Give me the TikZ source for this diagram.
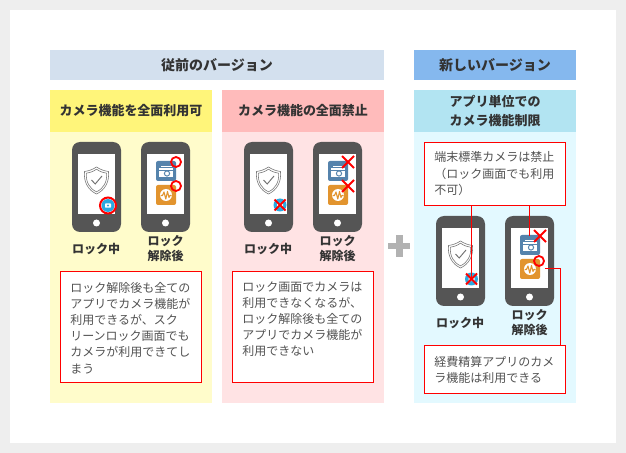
\documentclass[tikz,border=0pt]{standalone}
\usepackage{fontspec}
\setmainfont{Noto Sans CJK JP}
\definecolor{pagebg}{HTML}{EEEEEE}
\definecolor{headgrey}{HTML}{D3E0EE}
\definecolor{headblue}{HTML}{85B8EE}
\definecolor{headyellow}{HTML}{FFF57A}
\definecolor{bodyyellow}{HTML}{FFFCCB}
\definecolor{headpink}{HTML}{FFBBBB}
\definecolor{bodypink}{HTML}{FFE3E4}
\definecolor{headcyan}{HTML}{B2E4F2}
\definecolor{bodycyan}{HTML}{E3F9FF}
\definecolor{ink}{HTML}{333333}
\definecolor{phonegrey}{HTML}{555555}
\definecolor{iconblue}{HTML}{5583AC}
\definecolor{iconorange}{HTML}{E2942E}
\definecolor{camblue}{HTML}{2BA9E0}
\tikzset{
  x=0.75pt,y=-0.75pt,
  panel/.style={inner sep=0pt,outer sep=0pt,text=ink,font=\fontsize{10.5}{13}\selectfont\bfseries,align=center},
  subhead/.style={panel,font=\fontsize{9.75}{14.5}\selectfont\bfseries},
  note/.style={draw=red,line width=.75pt,fill=white,inner sep=0pt,outer sep=0pt,anchor=north west},
  notetext/.style={anchor=north west,inner sep=0pt,text=ink!85,align=left,font=\fontsize{9}{12.1}\selectfont},
  devlabel/.style={inner sep=0pt,text=ink,align=center,font=\fontsize{9}{11.25}\selectfont\bfseries},
  link/.style={red,line width=.75pt},
  okmark/.style={draw=red,line width=1.35pt,circle,inner sep=0pt,minimum size=10*.75pt},
}
\newcommand{\crossmark}[4][6]{%
  \coordinate (#2) at (#3,#4);
  \draw[red,line width=1.35pt] (#3-#1,#4-#1) -- (#3+#1,#4+#1) (#3-#1,#4+#1) -- (#3+#1,#4-#1);}
\newcommand{\phonebody}[3]{%
  \begin{scope}[shift={(#2,#3)}]
  \fill[phonegrey,rounded corners=6] (0,0) rectangle (49,90);
  \fill[white] (5.5,12) rectangle (43,72);
  \fill[white] (24.5,81) circle[radius=3.5];
  \end{scope}}
\newcommand{\shield}[2]{%
  \begin{scope}[shift={(#1,#2)}]
  \draw[ink!65,line width=.45pt,line join=round] (24.5,25) .. controls (29,28) and (33,29) .. (36.5,29.5) .. controls (37.5,40) and (33,48) .. (24.5,52) .. controls (16,48) and (11.5,40) .. (12.5,29.5) .. controls (16,29) and (20,28) .. (24.5,25) -- cycle;
  \draw[ink!65,line width=.45pt,line join=round] (24.5,27.2) .. controls (28.5,30) and (31.5,30.7) .. (34.6,31.2) .. controls (35.3,40) and (31.5,46.6) .. (24.5,49.8) .. controls (17.5,46.6) and (13.7,40) .. (14.4,31.2) .. controls (17.5,30.7) and (20.5,30) .. (24.5,27.2) -- cycle;
  \draw[ink!70,line width=.7pt] (19.5,38) -- (23.2,42) -- (30,34);
  \end{scope}}
\newcommand{\lockcam}[2]{%
  \fill[camblue] (#1,#2) circle[radius=6.5];
  \fill[white,rounded corners=.5] (#1-3,#2-2) rectangle (#1+3,#2+2.2);
  \fill[camblue] (#1,#2) circle[radius=1.2];}
\newcommand{\appicons}[2]{%
  \begin{scope}[shift={(#1,#2)}]
  \fill[iconblue,rounded corners=1.5] (15,19) rectangle (35,39);
  \fill[white] (18,26) rectangle (32,35.5);
  \fill[iconblue] (18,28) rectangle (32,28.7);
  \draw[iconblue,line width=.7pt] (26,31.5) circle[radius=2.6];
  \fill[white] (20,23.6) rectangle (31,25);
  \fill[iconorange,rounded corners=1.5] (15,43) rectangle (35,63);
  \fill[white] (25,53) circle[radius=6];
  \draw[iconorange,line width=.8pt,line join=round] (19.5,53.5) -- (21.5,53.5) -- (23,50) -- (24.8,57) -- (26.5,49.5) -- (28,55.5) -- (29,53.5) -- (30.5,53.5);
  \end{scope}}
\begin{document}
\begin{tikzpicture}
\useasboundingbox (0,0) rectangle (626,453);
\fill[pagebg] (0,0) rectangle (626,453);
\fill[white] (10,10) rectangle (616,443);
% headers
\node[panel,fill=headgrey,minimum width=334*.75pt,minimum height=30*.75pt,anchor=north west] (oldhead) at (50,50) {従前のバージョン};
\node[panel,fill=headblue,minimum width=162*.75pt,minimum height=30*.75pt,anchor=north west] (newhead) at (414,50) {新しいバージョン};
% columns
\fill[bodyyellow] (50,132) rectangle (212,403);
\fill[bodypink] (222,132) rectangle (384,403);
\fill[bodycyan] (414,132) rectangle (576,403);
\node[subhead,fill=headyellow,minimum width=162*.75pt,minimum height=42*.75pt,anchor=north west] (colA) at (50,90) {カメラ機能を全面利用可};
\node[subhead,fill=headpink,minimum width=162*.75pt,minimum height=42*.75pt,anchor=north west] (colB) at (222,90) {カメラ機能の全面禁止};
\node[subhead,fill=headcyan,minimum width=162*.75pt,minimum height=42*.75pt,anchor=north west] (colC) at (414,90) {アプリ単位での\\カメラ機能制限};
% column A phones
\phonebody{a1}{72}{142}\shield{72}{142}\lockcam{108}{205.5}
\draw[red,line width=1.5pt] (108,205.5) circle[radius=8];
\phonebody{a2}{141}{142}\appicons{141}{142}
\node[okmark] (okA) at (176,162) {};
\node[okmark] (okB) at (176,186) {};
\node[devlabel] (la1) at (96,249) {ロック中};
\node[devlabel] (la2) at (165.5,248.5) {ロック\\解除後};
% column B phones
\phonebody{b1}{244}{142}\shield{244}{142}\lockcam{280}{205}\crossmark[5.5]{xb}{280}{205}
\phonebody{b2}{313}{142}\appicons{313}{142}
\crossmark{xc}{348}{162}\crossmark{xd}{348}{186}
\node[devlabel] (lb1) at (268,249) {ロック中};
\node[devlabel] (lb2) at (337.5,248.5) {ロック\\解除後};
% column C phones
\phonebody{c1}{436}{216}\shield{436}{216}\lockcam{471.5}{279}
\phonebody{c2}{505}{216}\appicons{505}{216}
\node[devlabel] (lc1) at (460,323) {ロック中};
\node[devlabel] (lc2) at (529.5,322.5) {ロック\\解除後};
% notes
\node[note,minimum width=141*.75pt,minimum height=111*.75pt] (noteA) at (60.5,271.5) {};
\node[notetext,text width=126*.75pt] (textA) at (70,282) {ロック解除後も全ての\\アプリでカメラ機能が\\利用できるが、スク\\リーンロック画面でも\\カメラが利用できてし\\まう};
\node[note,minimum width=141*.75pt,minimum height=111*.75pt] (noteB) at (232.5,271.5) {};
\node[notetext,text width=126*.75pt] (textB) at (242,281.5) {ロック画面でカメラは\\利用できなくなるが、\\ロック解除後も全ての\\アプリでカメラ機能が\\利用できない};
\node[note,minimum width=141*.75pt,minimum height=63*.75pt] (noteC) at (424.5,142.5) {};
\node[notetext,text width=126*.75pt] (textC) at (434,151.5) {端末標準カメラは禁止\\（ロック画面でも利用\\不可）};
\node[note,minimum width=141*.75pt,minimum height=48*.75pt] (noteD) at (424.5,345.5) {};
\node[notetext,text width=126*.75pt] (textD) at (434,356) {経費精算アプリのカメ\\ラ機能は利用できる};
% marks and connectors in column C
\crossmark[5.5]{xe}{471.5}{279}
\crossmark{xf}{540}{236}
\node[okmark] (okC) at (539,261) {};
\coordinate (xg) at (529.5,236);
\draw[link] (noteC.south -| xe) -- (xe);
\draw[link] (noteC.south -| xg) -- (xg);
\draw[link] (okC.east |- 0,269) -- (560.5,269) -- (noteD.north -| 560.5,0);
% plus
\fill[black!30] (388,243) rectangle (410,249.5);
\fill[black!30] (396,235) rectangle (403,257);
\end{tikzpicture}
\end{document}
